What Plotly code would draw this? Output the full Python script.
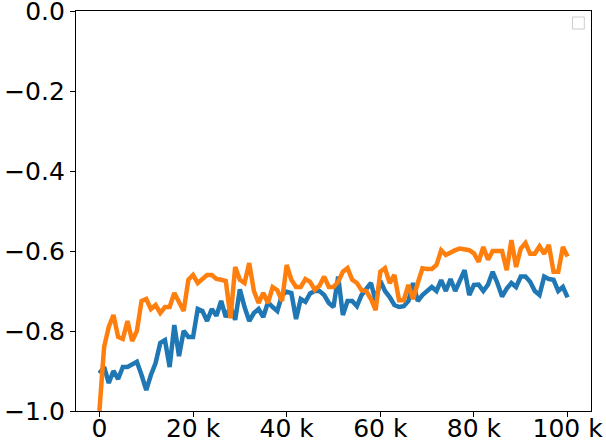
import plotly.graph_objects as go

steps = list(range(0, 101000, 1000))

blue = [-0.906, -0.89, -0.93, -0.90, -0.92, -0.89, -0.89, -0.885, -0.877, -0.91,
        -0.948, -0.91, -0.88, -0.83, -0.823, -0.89, -0.785, -0.863, -0.80, -0.815,
        -0.815, -0.745, -0.75, -0.775, -0.745, -0.762, -0.725, -0.765, -0.74, -0.772,
        -0.696, -0.74, -0.775, -0.755, -0.745, -0.765, -0.728, -0.74, -0.75, -0.71,
        -0.702, -0.705, -0.77, -0.72, -0.727, -0.706, -0.70, -0.70, -0.71, -0.73,
        -0.74, -0.664, -0.76, -0.725, -0.725, -0.738, -0.71, -0.695, -0.68, -0.725,
        -0.675, -0.70, -0.715, -0.735, -0.74, -0.738, -0.725, -0.68, -0.725, -0.71,
        -0.70, -0.69, -0.70, -0.673, -0.70, -0.67, -0.70, -0.675, -0.648, -0.71,
        -0.685, -0.684, -0.70, -0.684, -0.652, -0.68, -0.714, -0.694, -0.68, -0.69,
        -0.664, -0.664, -0.677, -0.70, -0.71, -0.664, -0.67, -0.672, -0.70, -0.69,
        -0.716]

orange = [-1.0, -0.84, -0.79, -0.76, -0.815, -0.82, -0.775, -0.825, -0.80, -0.725,
          -0.72, -0.745, -0.735, -0.755, -0.74, -0.74, -0.705, -0.727, -0.75, -0.672,
          -0.66, -0.68, -0.67, -0.66, -0.66, -0.67, -0.672, -0.675, -0.768, -0.64,
          -0.672, -0.68, -0.63, -0.70, -0.73, -0.705, -0.73, -0.69, -0.698, -0.725,
          -0.635, -0.672, -0.69, -0.69, -0.67, -0.677, -0.697, -0.687, -0.664, -0.69,
          -0.69, -0.677, -0.652, -0.643, -0.672, -0.68, -0.698, -0.70, -0.72, -0.748,
          -0.652, -0.643, -0.68, -0.66, -0.723, -0.723, -0.685, -0.72, -0.68, -0.643,
          -0.645, -0.645, -0.635, -0.598, -0.61, -0.603, -0.598, -0.594, -0.595, -0.598,
          -0.606, -0.627, -0.59, -0.622, -0.60, -0.60, -0.60, -0.648, -0.573, -0.64,
          -0.594, -0.58, -0.607, -0.607, -0.588, -0.607, -0.585, -0.652, -0.652, -0.59,
          -0.614]

x_tickvals = [0, 20000, 40000, 60000, 80000, 100000]
x_ticktext = ["0", "20 k", "40 k", "60 k", "80 k", "100 k"]
y_tickvals = [-1.0, -0.8, -0.6, -0.4, -0.2, 0.0]
y_ticktext = ["\u22121.0", "\u22120.8", "\u22120.6", "\u22120.4", "\u22120.2", "0.0"]

fig = go.Figure()
fig.add_trace(go.Scatter(x=steps, y=blue, mode="lines",
                         line=dict(color="#1f77b4", width=4.5), showlegend=False))
fig.add_trace(go.Scatter(x=steps, y=orange, mode="lines",
                         line=dict(color="#ff7f0e", width=4.5), showlegend=False))

axis_common = dict(showline=True, linecolor="black", linewidth=1.2, mirror=True,
                   showgrid=False, zeroline=False, ticks="outside", ticklen=5,
                   tickwidth=1.1, tickcolor="black", automargin=False,
                   ticklabeloverflow="allow",
                   tickfont=dict(family="DejaVu Sans", size=25, color="black"))

fig.update_layout(
    width=606, height=443,
    margin=dict(l=76, r=15, t=11, b=32),
    paper_bgcolor="white", plot_bgcolor="white",
    xaxis=dict(range=[-5000, 105000], tickmode="array", tickvals=x_tickvals,
               ticktext=x_ticktext, ticklabelstandoff=-10, **axis_common),
    yaxis=dict(range=[-1.0, 0.0], tickmode="array", tickvals=y_tickvals,
               ticktext=y_ticktext, **axis_common),
    shapes=[dict(type="rect", xref="paper", yref="paper",
                 x0=0.964, x1=0.987, y0=0.955, y1=0.985,
                 line=dict(color="#cccccc", width=1), fillcolor="white")],
)

fig.write_html("out.html", config={"displayModeBar": False},
               post_script="document.body.style.margin='0';document.body.style.overflow='hidden';")
